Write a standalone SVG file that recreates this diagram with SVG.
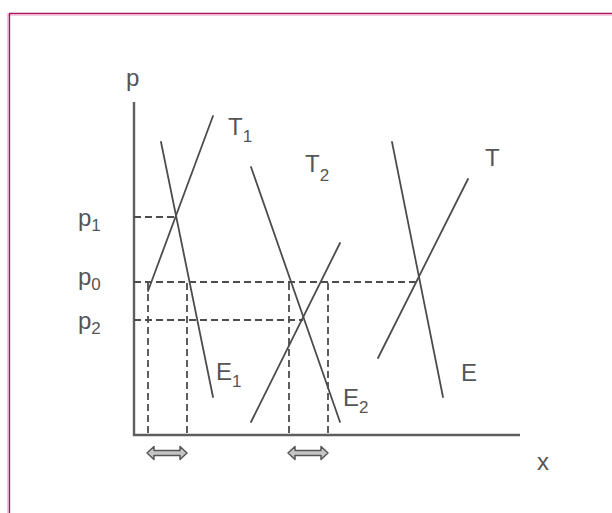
<svg xmlns="http://www.w3.org/2000/svg" width="612" height="513" viewBox="0 0 612 513">
<style>
.ln{stroke:#4d4d4d;stroke-width:1.8;fill:none;stroke-linecap:round}
.ax{stroke:#5e5e5e;stroke-width:2.4;fill:none}
.ds{stroke:#4d4d4d;stroke-width:1.8;fill:none;stroke-dasharray:7 4}
.tx{font-family:"Liberation Sans",Arial,sans-serif;font-size:24px;fill:#555}
.sb{font-size:17px}
.ar{fill:#c4c4c4;stroke:#555;stroke-width:1.5;stroke-linejoin:round}
</style>
<rect width="612" height="513" fill="#fff"/>
<g id="frame">
<line x1="8" y1="14.8" x2="612" y2="14.8" stroke="#ec9cc4" stroke-width="1.2"/>
<line x1="8" y1="13.5" x2="8" y2="513" stroke="#ec9cc4" stroke-width="1.2"/>
<path d="M9.5 513 V13.3 H612" fill="none" stroke="#a3175c" stroke-width="1.3"/>
</g>
<g id="axes">
<polyline class="ax" points="134,102 134,435 520,435"/>
<text class="tx" x="126" y="86">p</text>
<text class="tx" x="537" y="470">x</text>
</g>
<g id="dashes">
<line class="ds" x1="134" y1="217" x2="177" y2="217"/>
<line class="ds" x1="134" y1="282" x2="419" y2="282"/>
<line class="ds" x1="134" y1="320" x2="303" y2="320"/>
<line class="ds" x1="148" y1="283" x2="148" y2="434"/>
<line class="ds" x1="187" y1="283" x2="187" y2="434"/>
<line class="ds" x1="289" y1="283" x2="289" y2="434"/>
<line class="ds" x1="328" y1="283" x2="328" y2="434"/>
</g>
<g id="curves">
<line class="ln" x1="148" y1="291" x2="213" y2="116"/>
<line class="ln" x1="161" y1="142" x2="213" y2="397"/>
<line class="ln" x1="251" y1="167" x2="340" y2="422"/>
<line class="ln" x1="251" y1="422" x2="340" y2="243"/>
<line class="ln" x1="392" y1="142" x2="443" y2="397"/>
<line class="ln" x1="378" y1="358" x2="468" y2="179"/>
</g>
<g id="labels">
<text class="tx" x="78" y="226">p<tspan class="sb" dy="5">1</tspan></text>
<text class="tx" x="78" y="285">p<tspan class="sb" dy="5">0</tspan></text>
<text class="tx" x="78" y="329">p<tspan class="sb" dy="5">2</tspan></text>
<text class="tx" x="228" y="135">T<tspan class="sb" dy="7">1</tspan></text>
<text class="tx" x="305" y="172">T<tspan class="sb" dy="9">2</tspan></text>
<text class="tx" x="485" y="166">T</text>
<text class="tx" x="216" y="380">E<tspan class="sb" dy="7">1</tspan></text>
<text class="tx" x="343" y="406">E<tspan class="sb" dy="7">2</tspan></text>
<text class="tx" x="461" y="381">E</text>
</g>
<g id="arrows">
<path class="ar" d="M147 453 L154 446.5 L154 450.5 L180 450.5 L180 446.5 L187 453 L180 459.5 L180 455.5 L154 455.5 L154 459.5 Z"/>
<path class="ar" d="M288 453 L295 446.5 L295 450.5 L321 450.5 L321 446.5 L328 453 L321 459.5 L321 455.5 L295 455.5 L295 459.5 Z"/>
</g>
</svg>
